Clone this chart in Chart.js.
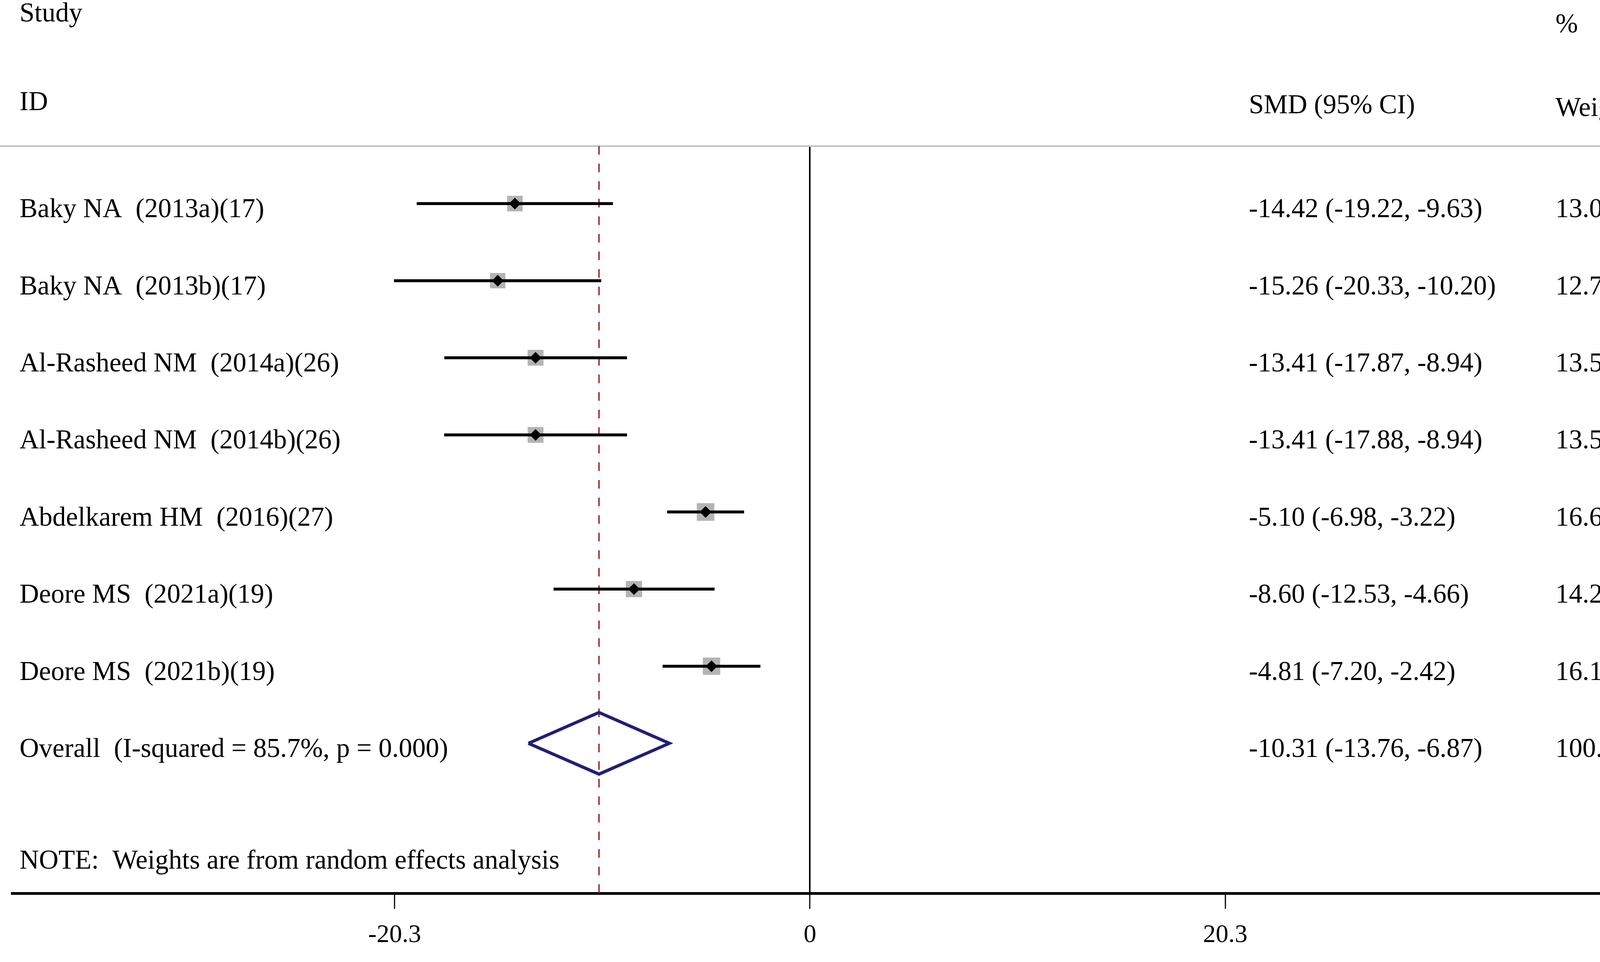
<!DOCTYPE html>
<html>
<head>
<meta charset="utf-8">
<title>Forest plot</title>
<script src="https://cdn.jsdelivr.net/npm/chart.js@4.4.1/dist/chart.umd.min.js"></script>
<style>
  html, body { margin: 0; padding: 0; background: #fff; overflow: hidden; }
  #wrap { width: 4317px; height: 2463px; position: relative; }
</style>
</head>
<body>
<div id="wrap"><canvas id="forest"></canvas></div>
<script>
// study rows
const studies = [
  "Baky NA  (2013a)(17)",
  "Baky NA  (2013b)(17)",
  "Al-Rasheed NM  (2014a)(26)",
  "Al-Rasheed NM  (2014b)(26)",
  "Abdelkarem HM  (2016)(27)",
  "Deore MS  (2021a)(19)",
  "Deore MS  (2021b)(19)"
];
const smd     = [-14.42, -15.26, -13.41, -13.41, -5.10, -8.60, -4.81];
const ciLow   = [-19.22, -20.33, -17.87, -17.88, -6.98, -12.53, -7.20];
const ciHigh  = [-9.63, -10.20, -8.94, -8.94, -3.22, -4.66, -2.42];
const weights = [13.09, 12.72, 13.54, 13.54, 16.67, 14.27, 16.17];

// pooled estimate
const overallLabel = "Overall  (I-squared = 85.7%, p = 0.000)";
const overallSmd = -10.31;
const overallLow = -13.76;
const overallHigh = -6.87;
const overallWeight = 100.00;

const noteText = "NOTE:  Weights are from random effects analysis";

// axis
const tickValues = [-20.3, 0, 20.3];
const tickLabels = ["-20.3", "0", "20.3"];

const xMin = -38.98, xMax = 42.23;
const yMin = 0.254, yMax = 9.945;
const overallRow = studies.length + 1;
const noteRow = 9.45;
const serif = '"Liberation Serif", "Times New Roman", serif';

const fmt = v => v.toFixed(2);

// CI segments, one dataset with gaps
const ciData = [];
studies.forEach((s, i) => {
  ciData.push({x: ciLow[i], y: i + 1}, {x: ciHigh[i], y: i + 1}, {x: ciHigh[i], y: null});
});
const pointData = smd.map((v, i) => ({x: v, y: i + 1}));
const dh = 0.4; // half height of pooled diamond, in rows
const diamondData = [
  {x: overallLow, y: overallRow},
  {x: overallSmd, y: overallRow - dh},
  {x: overallHigh, y: overallRow},
  {x: overallSmd, y: overallRow + dh},
  {x: overallLow, y: overallRow}
];

const tablePlugin = {
  id: 'table',
  beforeDatasetsDraw(chart) {
    const {ctx, chartArea} = chart;
    ctx.save();
    ctx.strokeStyle = '#c2c2c2';
    ctx.lineWidth = 4;
    ctx.beginPath();
    ctx.moveTo(0, chartArea.top);
    ctx.lineTo(chartArea.right, chartArea.top);
    ctx.stroke();
    ctx.restore();
  },
  afterDraw(chart) {
    const {ctx, scales: {y}} = chart;
    const colName = 50, colSmd = 3197, colW = 3982, off = 35;
    ctx.save();
    ctx.fillStyle = '#000';
    ctx.font = '69px ' + serif;
    ctx.textAlign = 'left';
    ctx.textBaseline = 'alphabetic';
    // headers
    ctx.fillText("Study", colName, 55);
    ctx.fillText("ID", colName, 282);
    ctx.fillText("%", colW, 83);
    ctx.fillText("SMD (95% CI)", colSmd, 290);
    ctx.fillText("Weight", colW, 297);
    studies.forEach((s, i) => {
      const py = y.getPixelForValue(i + 1) + off;
      ctx.fillText(s, colName, py);
      ctx.fillText(fmt(smd[i]) + " (" + fmt(ciLow[i]) + ", " + fmt(ciHigh[i]) + ")", colSmd, py);
      ctx.fillText(fmt(weights[i]), colW, py);
    });
    const po = y.getPixelForValue(overallRow) + off;
    ctx.fillText(overallLabel, colName, po);
    ctx.fillText(fmt(overallSmd) + " (" + fmt(overallLow) + ", " + fmt(overallHigh) + ")", colSmd, po);
    ctx.fillText(fmt(overallWeight), colW, po);
    ctx.fillText(noteText, colName, y.getPixelForValue(noteRow) + off);
    ctx.restore();
  }
};

new Chart(document.getElementById('forest'), {
  type: 'scatter',
  data: {
    datasets: [
      {
        label: 'Overall',
        data: diamondData,
        showLine: true,
        borderColor: '#1f1f78',
        borderWidth: 8,
        borderJoinStyle: 'miter',
        pointRadius: 0,
        fill: false,
        order: 0
      },
      {
        label: 'Estimate',
        data: pointData,
        pointStyle: 'rectRot',
        pointRadius: 15,
        backgroundColor: '#000',
        borderWidth: 0,
        order: 1
      },
      {
        label: 'CI',
        data: ciData,
        showLine: true,
        spanGaps: false,
        borderColor: '#000',
        borderWidth: 7.5,
        borderCapStyle: 'butt',
        pointRadius: 0,
        order: 2
      },
      {
        label: 'Weight',
        data: pointData,
        pointStyle: 'rect',
        pointRadius: ctx => 7.8 * Math.sqrt(weights[ctx.dataIndex] || 0),
        backgroundColor: '#b4b4b4',
        borderWidth: 0,
        order: 3
      },
      {
        label: 'Pooled',
        data: [{x: overallSmd, y: yMin}, {x: overallSmd, y: yMax}],
        showLine: true,
        borderColor: '#a01c1c',
        borderWidth: 3.5,
        borderDash: [22, 23],
        pointRadius: 0,
        order: 4
      }
    ]
  },
  options: {
    responsive: true,
    maintainAspectRatio: false,
    animation: false,
    layout: { padding: { left: 6, right: 7, top: 374, bottom: 1 } },
    plugins: { legend: { display: false }, tooltip: { enabled: false } },
    scales: {
      x: {
        type: 'linear',
        min: xMin,
        max: xMax,
        afterBuildTicks: s => { s.ticks = tickValues.map(v => ({ value: v })); },
        ticks: {
          callback: (v, i) => tickLabels[i],
          color: '#000',
          font: { family: serif, size: 65, lineHeight: 1 },
          padding: 35,
          maxRotation: 0,
          autoSkip: false
        },
        grid: {
          drawOnChartArea: true,
          color: ctx => (ctx.tick && ctx.tick.value === 0) ? '#000' : 'rgba(0,0,0,0)',
          lineWidth: 4,
          tickLength: 40,
          tickColor: '#000',
          tickWidth: 3
        },
        border: { display: true, color: '#000', width: 7 }
      },
      y: {
        type: 'linear',
        reverse: true,
        min: yMin,
        max: yMax,
        display: false
      }
    }
  },
  plugins: [tablePlugin]
});
</script>
</body>
</html>
